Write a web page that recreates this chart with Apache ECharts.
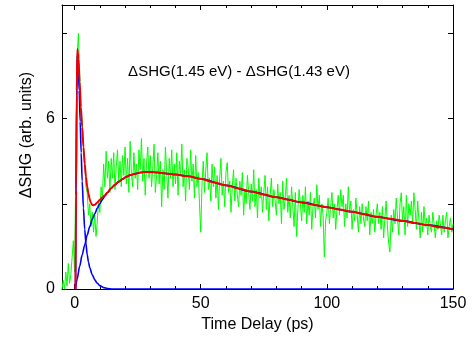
<!DOCTYPE html>
<html>
<head>
<meta charset="utf-8">
<script src="https://cdn.jsdelivr.net/npm/echarts@6/dist/echarts.min.js"></script>
<style>
html,body{margin:0;padding:0;background:#fff;}
#c{width:473px;height:339px;}
</style>
</head>
<body>
<div id="c"></div>
<script>
// ---- data ----
var xLabelTicks = [0, 50, 100, 150];
var xMinorTicks = [0, 10, 20, 30, 40, 50, 60, 70, 80, 90, 100, 110, 120, 130, 140, 150];
var yLabelTicks = [0, 6];
var yTicks = [0, 3, 6, 9];

// measured signal, sampled every 0.5 ps from -5 ps
var measStart = -5, measStep = 0.5;
var measured = [
  0.0, 0.3, 0.0, 0.6, 0.1, 0.9, 0.2, 0.5, 1.1, 1.7,
  0.6, 4.5, 8.2, 9.0, 7.6, 6.2, 5.9, 5.0, 4.6, 3.6,
  3.4, 2.6, 3.0, 2.2, 2.7, 2.0, 2.6, 1.85, 2.4, 3.1,
  2.7, 3.6, 3.1, 4.4, 3.6, 4.85, 3.9, 4.5, 3.4, 4.6,
  3.9, 4.8, 3.5, 4.3, 4.9, 3.8, 4.5, 3.6, 4.7, 4.0,
  5.0, 3.7, 4.6, 3.4, 5.2, 4.1, 3.6, 4.8, 3.9, 4.4,
  3.5, 4.9, 4.2, 5.3, 3.8, 4.6, 3.3, 4.4, 5.0, 3.9,
  4.7, 3.6, 4.3, 5.1, 3.4, 4.0, 4.8, 3.7, 4.5, 2.9,
  4.2, 3.5, 5.0, 4.1, 3.2, 4.6, 3.9, 4.9, 3.6, 4.4,
  3.7, 4.8, 3.3, 4.5, 4.0, 5.1, 3.6, 4.2, 3.1, 4.6,
  4.3, 3.5, 4.9, 3.8, 4.4, 3.2, 4.7, 3.6, 4.1, 3.0,
  2.0, 3.7, 4.5, 3.4, 4.2, 4.8, 3.5, 3.9, 3.1, 4.4,
  3.6, 4.3, 3.2, 4.0, 2.8, 3.9, 4.6, 3.3, 3.8, 2.9,
  4.1, 4.45, 3.4, 3.8, 2.7, 3.6, 4.2, 3.1, 3.9, 3.3,
  2.9, 3.8, 3.3, 4.1, 2.6, 3.5, 3.0, 4.0, 3.4, 2.8,
  3.7, 3.1, 4.2, 2.9, 3.5, 2.5, 3.9, 3.2, 3.6, 2.7,
  3.4, 4.0, 2.8, 3.6, 2.4, 3.3, 3.9, 2.9, 3.5, 3.1,
  2.6, 3.7, 3.0, 3.4, 2.3, 3.8, 2.8, 3.2, 3.9, 2.7,
  3.3, 2.5, 3.6, 2.9, 2.2, 3.4, 1.85, 2.8, 3.5, 3.0,
  2.4, 3.3, 2.7, 3.6, 2.3, 3.1, 2.6, 3.4, 2.1, 2.9,
  3.2, 2.5, 3.67, 2.8, 3.3, 2.2, 3.0, 2.6, 1.13, 2.4,
  2.7, 3.2, 2.3, 2.9, 3.4, 2.5, 3.0, 2.1, 2.8, 3.3,
  2.6, 3.5, 2.9, 3.3, 2.2, 3.0, 2.5, 3.6, 2.7, 3.1,
  2.1, 2.8, 2.4, 3.2, 2.6, 2.0, 2.9, 2.3, 3.0, 2.5,
  2.2, 2.9, 2.4, 3.1, 1.9, 2.7, 2.3, 2.8, 2.0, 2.6,
  3.0, 2.3, 2.7, 2.1, 2.9, 1.8, 2.5, 3.1, 2.2, 1.6,
  1.3, 2.6, 2.0, 2.8, 2.3, 3.2, 2.5, 1.9, 3.0, 3.39,
  2.4, 2.9, 1.9, 3.3, 2.2, 3.0, 2.6, 3.1, 2.3, 3.39,
  2.8, 2.1, 3.1, 2.4, 1.8, 2.7, 2.0, 2.9, 2.2, 2.5,
  1.9, 2.6, 2.2, 2.0, 2.7, 2.3, 1.8, 2.4, 2.1, 2.6,
  2.3, 1.9, 2.6, 2.0, 2.4, 2.7, 1.8, 2.2, 2.5, 2.0,
  2.3
];

// total fit [time, value]
var fitTotal = [
  [0.35,0],[0.6,3.5],[0.85,7.0],[1.1,8.45],[1.5,8.1],[2.0,7.3],[2.5,6.4],[3.0,5.7],
  [3.5,5.0],[4.0,4.4],[4.5,3.95],[5.0,3.6],[5.5,3.35],[6.0,3.15],[6.5,3.03],[7.0,2.96],
  [7.5,2.95],[8.0,2.97],[9.0,3.05],[10.0,3.14],[11.0,3.22],[12.0,3.3],[13.0,3.4],
  [14.5,3.55],[16.0,3.67],[17.5,3.78],[19.0,3.87],[20.5,3.95],[22.0,4.01],[24.0,4.06],
  [26.0,4.1],[28.0,4.12],[30.0,4.12],[33.0,4.1],[36.0,4.07],[40.0,4.03],[45.0,3.97],
  [50.0,3.88],[55.0,3.76],[60.0,3.65],[65.0,3.54],[70.0,3.43],[75.0,3.33],[80.0,3.23],
  [85.0,3.14],[90.0,3.05],[95.0,2.96],[100.0,2.88],[105.0,2.8],[110.0,2.72],[115.0,2.63],
  [120.0,2.54],[125.0,2.47],[130.0,2.4],[135.0,2.32],[140.0,2.25],[145.0,2.17],[150.0,2.1]
];

// fast component [time, value]
var fitFast = [
  [0.35,0],[0.6,3.3],[0.85,6.8],[1.05,8.2],[1.4,7.9],[1.8,7.0],[2.2,5.9],[2.6,4.8],
  [3.0,3.8],[3.5,2.85],[4.0,2.1],[4.5,1.6],[5.0,1.2],[5.5,0.95],[6.0,0.75],[7.0,0.5],
  [8.0,0.32],[9.0,0.2],[10.0,0.12],[11.5,0.05],[13.0,0.02],[15.0,0],[150.0,0]
];

// slow component [time, value]
var fitSlow = [
  [0.35,0],[1.0,0.35],[2.0,0.8],[3.0,1.2],[4.0,1.55],[5.0,1.9],[6.0,2.2],[7.0,2.45],
  [8.0,2.65],[9.0,2.85],[10.0,3.0],[11.0,3.15],[12.0,3.27],[13.0,3.39],[14.5,3.55],
  [16.0,3.67],[17.5,3.78],[19.0,3.87],[20.5,3.95],[22.0,4.01],[24.0,4.06],[26.0,4.1],
  [28.0,4.12],[30.0,4.12],[33.0,4.1],[36.0,4.07],[40.0,4.03],[45.0,3.97],[50.0,3.88],
  [60.0,3.65],[70.0,3.43],[80.0,3.23],[90.0,3.05],[100.0,2.88],[110.0,2.72],[120.0,2.54],
  [130.0,2.4],[140.0,2.25],[150.0,2.1]
];

var measuredPairs = measured.map(function (v, i) { return [measStart + i * measStep, v]; });

var FONT = 'Liberation Sans, Arial, sans-serif';
var chart = echarts.init(document.getElementById('c'), null, {renderer: 'canvas'});

function xAx(pos, ticks, len, showLine, showLabel) {
  return {
    type: 'value', min: -5, max: 150, position: pos, gridIndex: 0,
    axisLine: {show: showLine, onZero: false, lineStyle: {color: '#000', width: 1}},
    axisTick: {show: true, inside: true, length: len, customValues: ticks, lineStyle: {color: '#000', width: 1}},
    axisLabel: {show: showLabel, customValues: xLabelTicks, color: '#000', fontSize: 16, fontFamily: FONT, margin: 7},
    splitLine: {show: false}
  };
}

var option = {
  animation: false,
  backgroundColor: '#fff',
  grid: {left: 62, right: 20, top: 5, bottom: 50, containLabel: false},
  xAxis: [
    Object.assign(xAx('bottom', xMinorTicks, 3, true, true), {
      name: 'Time Delay (ps)', nameLocation: 'middle', nameGap: 23,
      nameTextStyle: {color: '#000', fontSize: 16, fontFamily: FONT}
    }),
    xAx('bottom', xLabelTicks, 5, false, false),
    xAx('top', xMinorTicks, 3, true, false),
    xAx('top', xLabelTicks, 5, false, false)
  ],
  yAxis: [
    {
      type: 'value', min: 0, max: 10, position: 'left',
      axisLine: {show: true, onZero: false, lineStyle: {color: '#000', width: 1}},
      axisTick: {show: true, inside: true, length: 5, customValues: yTicks, lineStyle: {color: '#000'}},
      axisLabel: {customValues: yLabelTicks, color: '#000', fontSize: 16, fontFamily: FONT, margin: 7},
      splitLine: {show: false}
    },
    {
      type: 'value', min: 0, max: 10, position: 'right',
      axisLine: {show: true, onZero: false, lineStyle: {color: '#000', width: 1}},
      axisTick: {show: true, inside: true, length: 5, customValues: yTicks, lineStyle: {color: '#000'}},
      axisLabel: {show: false},
      splitLine: {show: false}
    }
  ],
  graphic: [
    {
      type: 'text', x: 27, y: 135, rotation: Math.PI / 2,
      style: {text: '\u0394SHG (arb. units)', font: '16px ' + FONT, fill: '#000', textAlign: 'center', textVerticalAlign: 'middle'}
    },
    {
      type: 'text', x: 239, y: 72,
      style: {text: '\u0394SHG(1.45 eV) - \u0394SHG(1.43 eV)', font: '15px ' + FONT, fill: '#000', textAlign: 'center', textVerticalAlign: 'middle'}
    }
  ],
  series: [
    {
      type: 'line', name: 'measured', data: measuredPairs, xAxisIndex: 0, yAxisIndex: 0,
      showSymbol: false, symbol: 'none', lineStyle: {color: '#00ff00', width: 1}, z: 2
    },
    {
      type: 'line', name: 'fast', data: fitFast, smooth: 0.3, smoothMonotone: 'x',
      showSymbol: false, symbol: 'none', lineStyle: {color: '#0000ff', width: 1.6}, z: 3
    },
    {
      type: 'line', name: 'slow', data: fitSlow, smooth: 0.3, smoothMonotone: 'x',
      showSymbol: false, symbol: 'none', lineStyle: {color: '#0000ff', width: 1.6}, z: 3
    },
    {
      type: 'line', name: 'fit', data: fitTotal, smooth: 0.3, smoothMonotone: 'x',
      showSymbol: false, symbol: 'none', lineStyle: {color: '#ee0000', width: 2}, z: 4
    }
  ]
};
chart.setOption(option);
</script>
</body>
</html>
